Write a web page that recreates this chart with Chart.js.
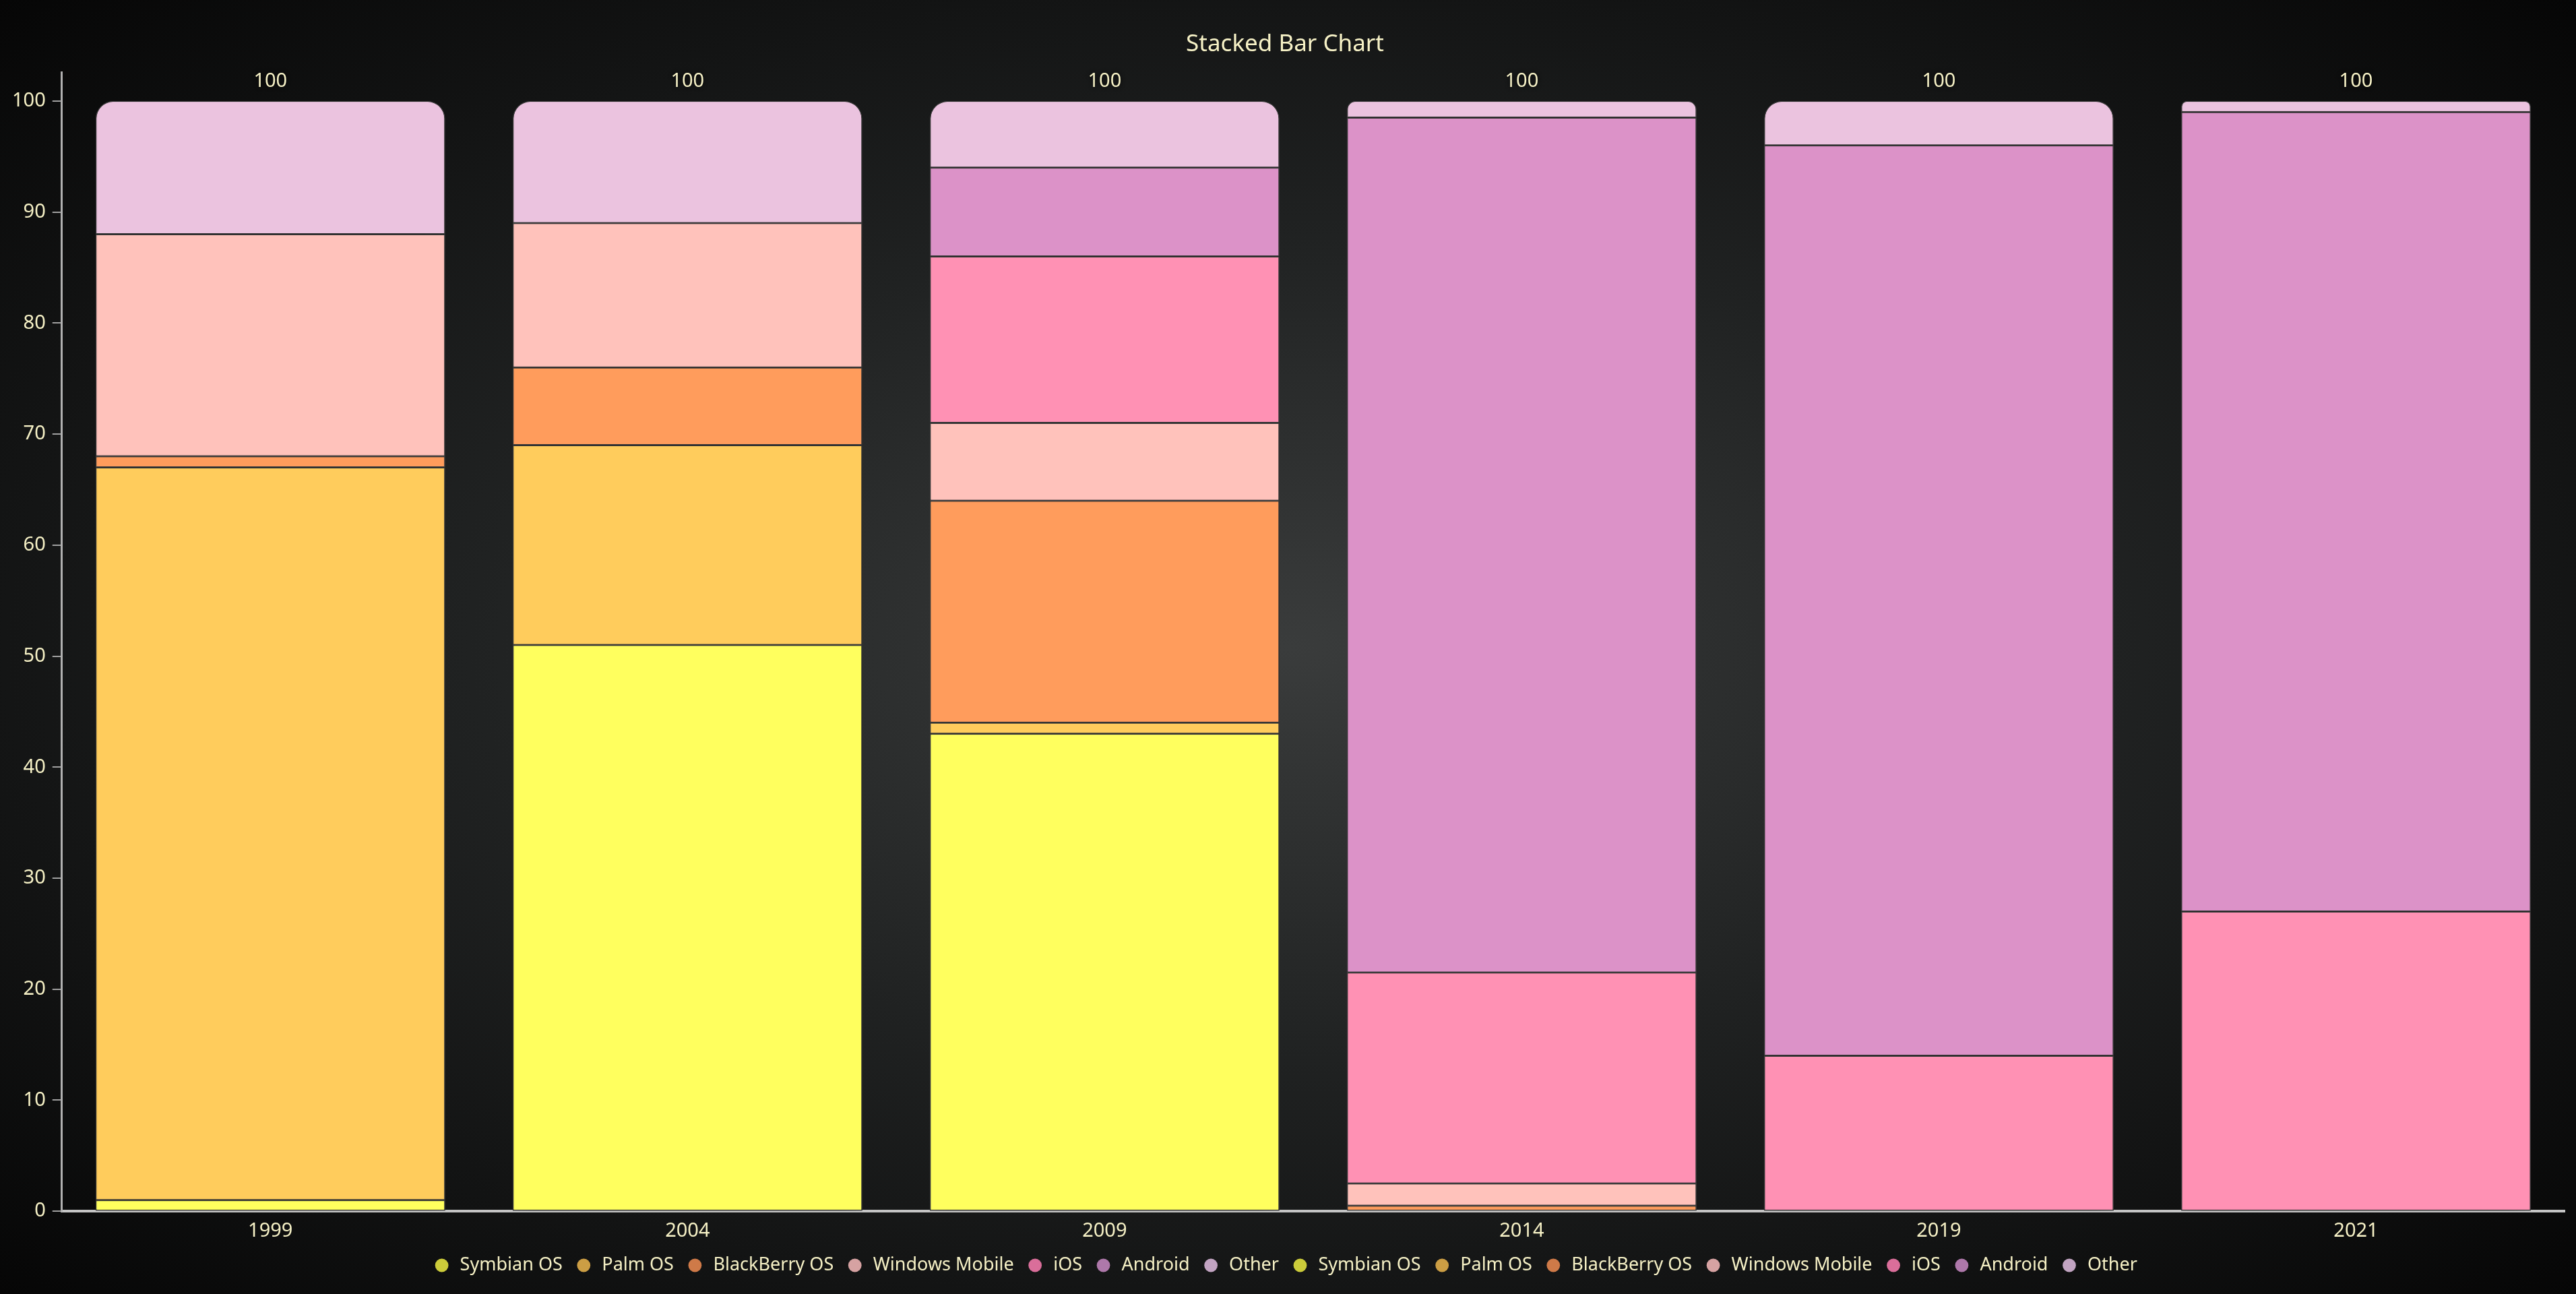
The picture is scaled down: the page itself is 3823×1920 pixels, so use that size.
<!DOCTYPE html>
<html>
<head>
<meta charset="utf-8">
<title>Stacked Bar Chart</title>
<script src="https://cdn.jsdelivr.net/npm/chart.js@4.4.1/dist/chart.umd.min.js"></script>
<style>
    html, body {
        margin: 0;
        padding: 0;
        width: 3823px;
        height: 1920px;
        overflow: hidden;
        background: radial-gradient(ellipse at 50% 50%, #3a3c3c 0%, #202222 45%, #060606 100%);
    }
    #wrap {
        position: relative;
        width: 3823px;
        height: 1920px;
    }
</style>
</head>
<body>
<div id="wrap"><canvas id="myChart"></canvas></div>
<script>
var years = ['1999', '2004', '2009', '2014', '2019', '2021'];
var osNames = ['Symbian OS', 'Palm OS', 'BlackBerry OS', 'Windows Mobile', 'iOS', 'Android', 'Other'];

var symbian = [1, 51, 43, 0, 0, 0];
var palm = [66, 18, 1, 0, 0, 0];
var blackberry = [1, 7, 20, 0.5, 0, 0];
var windowsMobile = [20, 13, 7, 2, 0, 0];
var ios = [0, 0, 15, 19, 14, 27];
var android = [0, 0, 8, 77, 82, 72];
var other = [12, 11, 6, 1.5, 4, 1];

var barColors = ['#ffff5e', '#ffcc5c', '#ff9c5c', '#ffc2bb', '#ff91b4', '#dc92c8', '#ebc3df'];
var legendColors = ['#cccc3a', '#cc9e44', '#cf7a48', '#d6a2a2', '#da6e9a', '#ae78aa', '#c2a4c2'];
var textColor = '#f6f1c6';

var series = [symbian, palm, blackberry, windowsMobile, ios, android, other];

var datasets = [];
for (var i = 0; i < series.length; i++) {
    datasets.push({
        label: osNames[i],
        data: series[i],
        backgroundColor: barColors[i],
        borderColor: '#3c3c3c',
        borderWidth: 1.5,
        borderSkipped: false,
        borderRadius: i == series.length - 1 ? {topLeft: 26, topRight: 26, bottomLeft: 0, bottomRight: 0} : 0
    });
}

// тень вокруг столбцов
var barShadow = {
    id: 'barShadow',
    beforeDatasetsDraw: function (chart) {
        var ctx = chart.ctx;
        ctx.save();
        ctx.shadowColor = 'rgba(0, 0, 0, 1)';
        ctx.shadowBlur = 36;
        for (var pass = 0; pass < 2; pass++) {
            chart.data.datasets.forEach(function (ds, di) {
                var meta = chart.getDatasetMeta(di);
                meta.data.forEach(function (el) {
                    el.draw(ctx);
                });
            });
        }
        ctx.restore();
    }
};

// сумма над каждым столбцом
var totals = {
    id: 'totals',
    afterDatasetsDraw: function (chart) {
        var ctx = chart.ctx;
        var yScale = chart.scales.y;
        var lastMeta = chart.getDatasetMeta(chart.data.datasets.length - 1);
        ctx.save();
        ctx.font = '29px "Noto Sans", sans-serif';
        ctx.fillStyle = textColor;
        ctx.textAlign = 'center';
        ctx.textBaseline = 'middle';
        ctx.shadowColor = 'rgba(0, 0, 0, 0.9)';
        ctx.shadowBlur = 6;
        years.forEach(function (y, idx) {
            var sum = 0;
            series.forEach(function (s) { sum += s[idx]; });
            var x = lastMeta.data[idx].x;
            ctx.fillText(String(Math.round(sum)), x, yScale.getPixelForValue(sum) - 29);
        });
        ctx.restore();
    }
};

var ctx = document.getElementById('myChart');
var myChart = new Chart(ctx, {
    type: 'bar',
    data: {
        labels: years,
        datasets: datasets
    },
    options: {
        responsive: true,
        maintainAspectRatio: false,
        animation: false,
        layout: {
            padding: {left: 8, right: 17, top: 0, bottom: 19}
        },
        datasets: {
            bar: {
                categoryPercentage: 1,
                barPercentage: 0.838
            }
        },
        plugins: {
            title: {
                display: true,
                text: 'Stacked Bar Chart',
                color: textColor,
                font: {family: '"Noto Sans", sans-serif', size: 35, weight: 'normal'},
                padding: {top: 45, bottom: 20}
            },
            legend: {
                position: 'bottom',
                labels: {
                    color: textColor,
                    font: {family: '"Noto Sans", sans-serif', size: 27},
                    usePointStyle: true,
                    pointStyle: 'circle',
                    boxHeight: 14,
                    padding: 18,
                    generateLabels: function (chart) {
                        var items = Chart.defaults.plugins.legend.labels.generateLabels(chart);
                        items.forEach(function (item, k) {
                            item.fillStyle = legendColors[k];
                            item.strokeStyle = legendColors[k];
                            item.lineWidth = 0;
                        });
                        return items.concat(items.map(function (item) { return Object.assign({}, item); }));
                    }
                }
            },
            tooltip: {enabled: false}
        },
        scales: {
            x: {
                stacked: true,
                afterFit: function (scale) {
                    scale.height -= 10;
                },
                grid: {display: false, drawTicks: false},
                border: {display: true, color: '#c4c4c4', width: 4},
                ticks: {
                    color: textColor,
                    font: {family: '"Noto Sans", sans-serif', size: 29},
                    padding: 12
                }
            },
            y: {
                stacked: true,
                min: 0,
                max: 102.6,
                afterBuildTicks: function (scale) {
                    scale.ticks = scale.ticks.filter(function (t) { return t.value % 10 === 0; });
                },
                grid: {display: true, drawOnChartArea: false, drawTicks: true, tickLength: 14, color: '#a0a0a0', lineWidth: 2},
                border: {display: true, color: '#b0b0b0', width: 3},
                ticks: {
                    stepSize: 10,
                    color: textColor,
                    font: {family: '"Noto Sans", sans-serif', size: 29},
                    padding: 10
                }
            }
        }
    },
    plugins: [barShadow, totals]
});
</script>
</body>
</html>
